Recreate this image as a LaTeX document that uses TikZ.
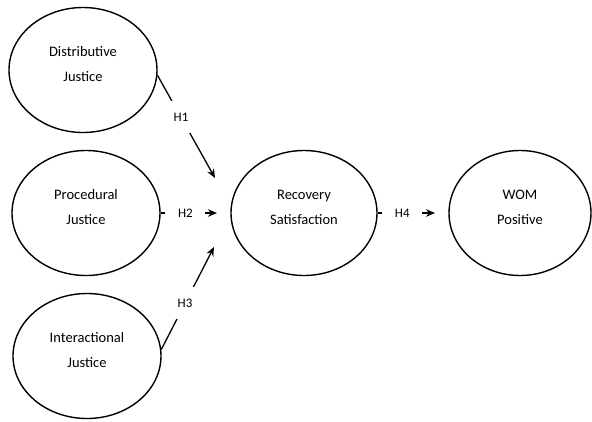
\documentclass[tikz,border=0pt]{standalone}
\usepackage{fontspec}
\setmainfont{Carlito}
\usetikzlibrary{shapes.geometric,arrows.meta}
\begin{document}
\begin{tikzpicture}[x=1pt,y=-1pt,
  construct/.style={draw, ellipse, line width=1.4pt, minimum width=148pt, minimum height=125pt, inner sep=0pt,
     label={[align=center, font=\fontsize{14.5}{25}\selectfont, yshift=6pt, text=black]center:#1}},
  lbl/.style={fill=white, minimum width=40pt, minimum height=32pt, inner sep=0pt, font=\fontsize{13}{15}\selectfont, text=black},
  conn/.style={line width=1.3pt, -{Stealth[length=9pt,width=7.5pt]}}]
\useasboundingbox (0,0) rectangle (592,421);
\node[construct={Distributive\\Justice}] (dj) at (83,70) {};
\node[construct={Procedural\\Justice}] (pj) at (86,213) {};
\node[construct={Interactional\\Justice}] (ij) at (87,356) {};
\node[construct={Recovery\\Satisfaction}, minimum width=146pt] (rs) at (304,213) {};
\node[construct={WOM\\Positive}, minimum width=142pt] (wom) at (520,213) {};
\coordinate (t1) at (215,178);
\coordinate (t2) at (217,213);
\coordinate (t3) at (214,247);
\coordinate (t4) at (435,213);
\draw[conn] (dj.-4) -- node[lbl, pos=0.41] {H1} (t1);
\draw[conn] (pj.east) -- node[lbl, pos=0.44] {H2} (t2);
\draw[conn] (ij.5) -- node[lbl, pos=0.45] {H3} (t3);
\draw[conn] (rs.east) -- node[lbl, pos=0.43] {H4} (t4);
\end{tikzpicture}
\end{document}
